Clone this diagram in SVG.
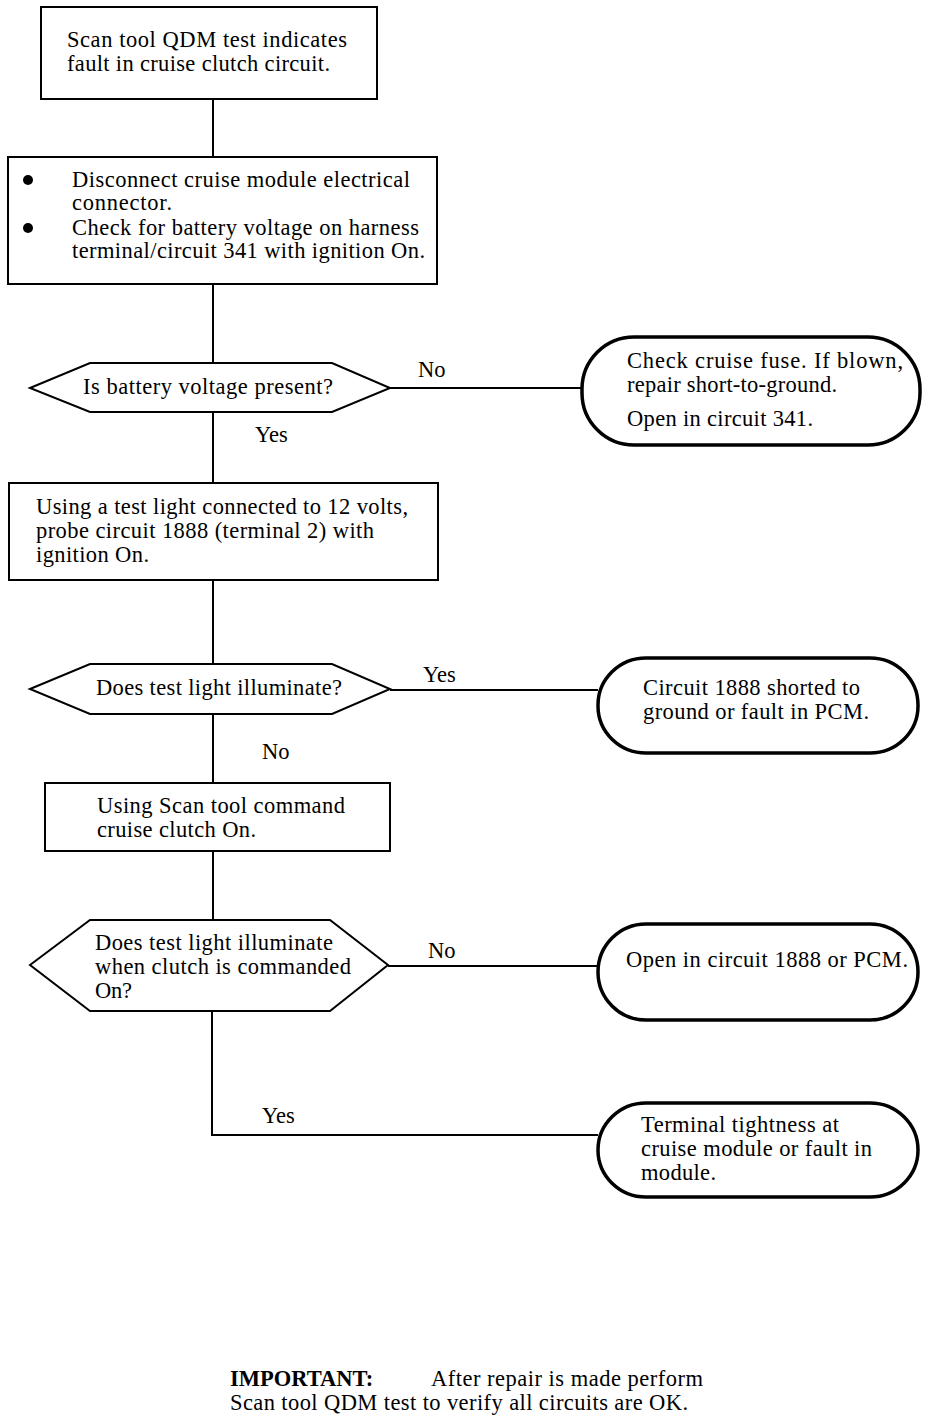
<svg xmlns="http://www.w3.org/2000/svg" width="928" height="1422" viewBox="0 0 928 1422">
<style>
text { font-family: "Liberation Serif", "Times New Roman", serif; font-size: 22.5px; fill: #000; }
.box { fill: #fff; stroke: #000; stroke-width: 2; }
.dec { fill: #fff; stroke: #000; stroke-width: 2; stroke-linejoin: miter; }
.term { fill: #fff; stroke: #000; stroke-width: 3.5; }
.conn { fill: none; stroke: #000; stroke-width: 2; }
.bold { font-weight: bold; }
</style>
<rect width="928" height="1422" fill="#fff"/>
<g id="connectors">
<line class="conn" x1="213" y1="99" x2="213" y2="157"/>
<line class="conn" x1="213" y1="284" x2="213" y2="363"/>
<line class="conn" x1="213" y1="412" x2="213" y2="483"/>
<line class="conn" x1="213" y1="580" x2="213" y2="664"/>
<line class="conn" x1="213" y1="714" x2="213" y2="783"/>
<line class="conn" x1="213" y1="851" x2="213" y2="920"/>
<polyline class="conn" points="212,1011 212,1135 598,1135"/>
<line class="conn" x1="390" y1="388" x2="582" y2="388"/>
<line class="conn" x1="390" y1="690" x2="598" y2="690"/>
<line class="conn" x1="388" y1="966" x2="598" y2="966"/>
<text x="418" y="377">No</text>
<text x="255" y="442">Yes</text>
<text x="423" y="682">Yes</text>
<text x="262" y="759">No</text>
<text x="428" y="958">No</text>
<text x="262" y="1123">Yes</text>
</g>
<g id="n1">
<rect class="box" x="41" y="7" width="336" height="92"/>
<text x="67" y="47" textLength="280">Scan tool QDM test indicates</text>
<text x="67" y="71" textLength="263">fault in cruise clutch circuit.</text>
</g>
<g id="n2">
<rect class="box" x="8" y="157" width="429" height="127"/>
<circle cx="28" cy="180" r="5"/>
<circle cx="28" cy="228" r="5"/>
<text x="72" y="187" textLength="338">Disconnect cruise module electrical</text>
<text x="72" y="210" textLength="100">connector.</text>
<text x="72" y="235" textLength="347">Check for battery voltage on harness</text>
<text x="72" y="258" textLength="353">terminal/circuit 341 with ignition On.</text>
</g>
<g id="d1">
<polygon class="dec" points="30,388 90,363 332,363 390,388 332,412 90,412"/>
<text x="83" y="394" textLength="250">Is battery voltage present?</text>
</g>
<g id="t1">
<rect class="term" x="582" y="337" width="338" height="108" rx="52" ry="52"/>
<text x="627" y="368" textLength="276">Check cruise fuse. If blown,</text>
<text x="627" y="392" textLength="210">repair short-to-ground.</text>
<text x="627" y="426" textLength="186">Open in circuit 341.</text>
</g>
<g id="n3">
<rect class="box" x="9" y="483" width="429" height="97"/>
<text x="36" y="514" textLength="372">Using a test light connected to 12 volts,</text>
<text x="36" y="538" textLength="338">probe circuit 1888 (terminal 2) with</text>
<text x="36" y="562" textLength="113">ignition On.</text>
</g>
<g id="d2">
<polygon class="dec" points="30,689 90,664 332,664 390,689 332,714 90,714"/>
<text x="96" y="695" textLength="246">Does test light illuminate?</text>
</g>
<g id="t2">
<rect class="term" x="598" y="658" width="320" height="95" rx="48" ry="47"/>
<text x="643" y="695" textLength="217">Circuit 1888 shorted to</text>
<text x="643" y="719" textLength="226">ground or fault in PCM.</text>
</g>
<g id="n4">
<rect class="box" x="45" y="783" width="345" height="68"/>
<text x="97" y="813" textLength="248">Using Scan tool command</text>
<text x="97" y="837" textLength="159">cruise clutch On.</text>
</g>
<g id="d3">
<polygon class="dec" points="30,965 90,920 330,920 388,965 330,1011 90,1011"/>
<text x="95" y="950" textLength="238">Does test light illuminate</text>
<text x="95" y="974" textLength="256">when clutch is commanded</text>
<text x="95" y="998" textLength="37">On?</text>
</g>
<g id="t3">
<rect class="term" x="598" y="924" width="320" height="96" rx="48" ry="48"/>
<text x="626" y="967" textLength="282">Open in circuit 1888 or PCM.</text>
</g>
<g id="t4">
<rect class="term" x="598" y="1103" width="320" height="94" rx="48" ry="47"/>
<text x="641" y="1132" textLength="198">Terminal tightness at</text>
<text x="641" y="1156" textLength="231">cruise module or fault in</text>
<text x="641" y="1180" textLength="75">module.</text>
</g>
<g id="note">
<text x="230" y="1386"><tspan class="bold">IMPORTANT:</tspan><tspan x="431" textLength="272">After repair is made perform</tspan></text>
<text x="230" y="1410" textLength="458">Scan tool QDM test to verify all circuits are OK.</text>
</g>
</svg>
